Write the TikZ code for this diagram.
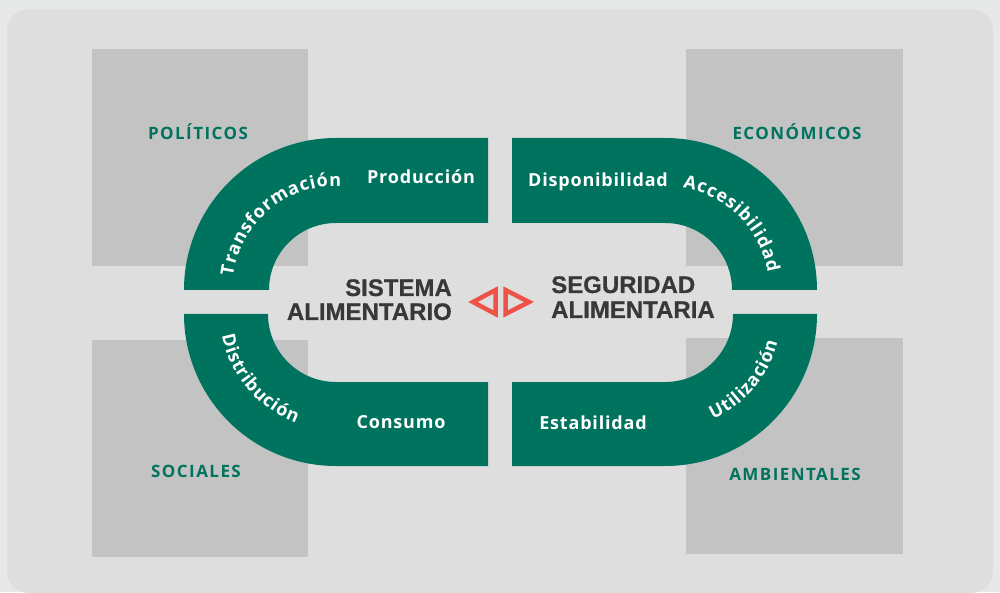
\documentclass[tikz,border=0pt]{standalone}
\usepackage{fontspec}
\usetikzlibrary{decorations.text}
\newfontfamily\osf{Open Sans}
\newfontfamily\osfls[LetterSpace=4.5]{Open Sans}
\newfontfamily\osfcat[LetterSpace=8.5]{Open Sans}
\newfontfamily\libs[BoldFeatures={FakeBold=0.6}]{Liberation Sans}
\definecolor{bgout}{HTML}{E6E9E8}
\definecolor{panel}{HTML}{DEDEDE}
\definecolor{sq}{HTML}{C3C3C3}
\definecolor{grn}{HTML}{00735F}
\definecolor{dk}{HTML}{383838}
\definecolor{rd}{HTML}{EF5246}
\newcommand\arcf{\osf\bfseries\fontsize{18}{18}\selectfont\color{white}\kern0.9pt}
\tikzset{
  band/.style={fill=grn},
  cat/.style={font=\osfcat\bfseries\fontsize{17}{17}\selectfont, text=grn, inner sep=0pt, anchor=base},
  wlab/.style={font=\osfls\bfseries\fontsize{18}{18}\selectfont, text=white, inner sep=0pt, anchor=base},
  ctr/.style={font=\libs\bfseries\fontsize{24}{24}\selectfont, text=dk, inner sep=0pt},
  tri/.style={draw=rd, line width=4.5pt, line join=miter},
  arctxt/.style={decorate, decoration={text along path, text={|\arcf|#1}, text align=center}}
}
\begin{document}
\begin{tikzpicture}[x=1pt,y=1pt]
\useasboundingbox (0,0) rectangle (1000,592);
\fill[bgout] (0,0) rectangle (1000,592);
\fill[panel, rounded corners=22pt] (7,-1) rectangle (993,583);
% gray squares
\fill[sq] (92,326) rectangle (308,543);
\fill[sq] (92,35) rectangle (308,252);
\fill[sq] (686,326) rectangle (903,543);
\fill[sq] (686,38) rectangle (903,254);
% green bands
\fill[band] (184,302) arc[start angle=180, end angle=90, radius=152] -- (488,454) -- (488,369) -- (336,369) arc[start angle=90, end angle=180, radius=67] -- cycle;
\fill[band] (184,278) arc[start angle=180, end angle=270, radius=152] -- (488,126) -- (488,210) -- (336,210) arc[start angle=270, end angle=180, radius=68] -- cycle;
\fill[band] (817,302) arc[start angle=0, end angle=90, radius=152] -- (512,454) -- (512,369) -- (665,369) arc[start angle=90, end angle=0, radius=67] -- cycle;
\fill[band] (817,278) arc[start angle=0, end angle=-90, radius=152] -- (512,126) -- (512,210) -- (665,210) arc[start angle=-90, end angle=0, radius=68] -- cycle;
% category labels
\node[cat] (pol) at (198,452) {POLÍTICOS};
\node[cat] (eco) at (797,452) {ECONÓMICOS};
\node[cat] (soc) at (196,115) {SOCIALES};
\node[cat] (amb) at (795,112) {AMBIENTALES};
% straight white labels
\node[wlab] (prod) at (421,408) {Producción};
\node[wlab] (disp) at (598,405) {Disponibilidad};
\node[wlab] (cons) at (401,164) {Consumo};
\node[wlab] (esta) at (593,163) {Estabilidad};
% arc labels
\path[arctxt={Transformación}] ([shift={(336,302)}]185:104) arc[start angle=185, end angle=75, radius=104];
\path[arctxt={Accesibilidad}] ([shift={(665,302)}]95:104) arc[start angle=95, end angle=-5, radius=104];
\path[arctxt={Distribución}] ([shift={(336,278)}]165:116) arc[start angle=165, end angle=275, radius=116];
\path[arctxt={Utilización}] ([shift={(665,278)}]-95:116) arc[start angle=-95, end angle=15, radius=116];
% centre
\node[ctr, anchor=base east] (sis1) at (452,296) {SISTEMA};
\node[ctr, anchor=base east] (sis2) at (452,272) {ALIMENTARIO};
\node[ctr, anchor=base west] (seg1) at (551,299) {SEGURIDAD};
\node[ctr, anchor=base west] (seg2) at (551,274) {ALIMENTARIA};
\draw[tri] (473,290) -- (495.5,302) -- (495.5,278) -- cycle;
\draw[tri] (505.5,302) -- (505.5,278) -- (529,290) -- cycle;
\end{tikzpicture}
\end{document}
